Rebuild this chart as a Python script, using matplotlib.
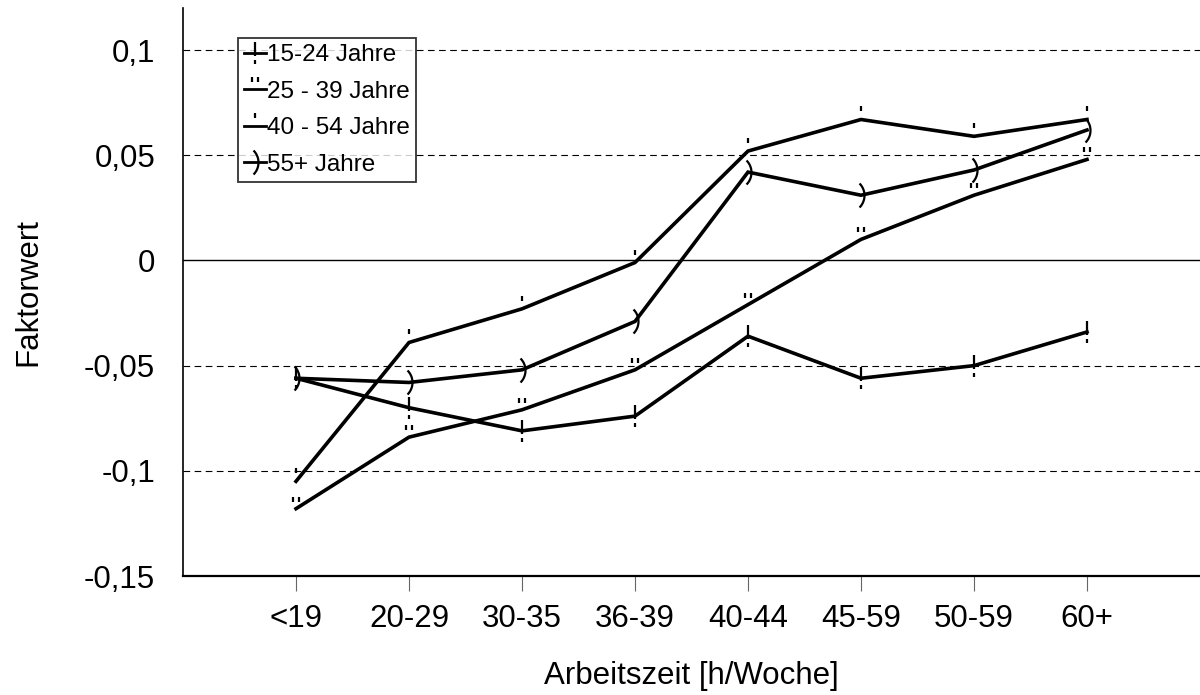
import numpy as np
import matplotlib
matplotlib.use('Agg')
import matplotlib.pyplot as plt
from matplotlib.path import Path

# Kategorien und Faktorwerte je Altersgruppe
kategorien = ['<19', '20-29', '30-35', '36-39', '40-44', '45-59', '50-59', '60+']
gruppen = ['15-24 Jahre', '25 - 39 Jahre', '40 - 54 Jahre', '55+ Jahre']
werte_15_24 = [-0.056, -0.070, -0.081, -0.074, -0.036, -0.056, -0.050, -0.034]
werte_25_39 = [-0.118, -0.084, -0.071, -0.052, -0.021, 0.010, 0.031, 0.048]
werte_40_54 = [-0.105, -0.039, -0.023, -0.001, 0.052, 0.067, 0.059, 0.067]
werte_55 = [-0.056, -0.058, -0.052, -0.029, 0.042, 0.031, 0.043, 0.062]

plt.rcParams['font.family'] = ['Liberation Sans', 'DejaVu Sans']

# Symbole wie in der Vorlage (Zeichen aus der Symbolschrift)
M, L = Path.MOVETO, Path.LINETO
sym_strich = Path([(0, 11), (0, -3), (0, -7), (0, -11)], [M, L, M, L])
sym_doppel = Path([(-2.5, 7), (-2.5, 12), (2.5, 7), (2.5, 12), (0, -12)], [M, L, M, L, M])
sym_einfach = Path([(0, 8), (0, 13), (0, -13)], [M, L, M])
t = np.linspace(-np.arcsin(12 / 17), np.arcsin(12 / 17), 15)
bogen = np.column_stack([-14 + 17 * np.cos(t), 17 * np.sin(t)])
sym_klammer = Path(bogen, [M] + [L] * (len(bogen) - 1))

reihen = [
    (werte_15_24, sym_strich, 15.8),
    (werte_25_39, sym_doppel, 17.3),
    (werte_40_54, sym_einfach, 18.7),
    (werte_55, sym_klammer, 17.3),
]

fig = plt.figure(figsize=(12, 6.95), dpi=100)
ax = fig.add_axes([183 / 1200, 1 - 576 / 695, 1 - 183 / 1200, (576 - 8) / 695])

x = np.arange(len(kategorien))
handles = []
for (werte, sym, ms), name in zip(reihen, gruppen):
    h, = ax.plot(x, werte, color='black', linewidth=2.6, marker=sym, markersize=ms,
                 markerfacecolor='none', markeredgecolor='black', markeredgewidth=1.6,
                 label=name, solid_joinstyle='miter')
    handles.append(h)

# Hilfslinien
for y in [-0.1, -0.05, 0.05, 0.1]:
    ax.axhline(y, color='black', linewidth=0.8, linestyle=(0, (6, 4)), zorder=0)
ax.axhline(0, color='black', linewidth=1.0, zorder=0)

ax.set_xlim(-1, 8)
ax.set_ylim(-0.15, 0.12)
ax.set_xticks(x)
ax.set_xticklabels(kategorien, fontsize=22.5)
ax.set_yticks([-0.15, -0.1, -0.05, 0, 0.05, 0.1])
ax.set_yticklabels(['-0,15', '-0,1', '-0,05', '0', '0,05', '0,1'], fontsize=22.5)
ax.tick_params(axis='x', length=11, width=0.8, color='#666666', pad=9)
ax.tick_params(axis='y', length=0, pad=20)
ax.spines['top'].set_visible(False)
ax.spines['right'].set_visible(False)
ax.spines['left'].set_linewidth(1.2)
ax.spines['bottom'].set_linewidth(1.6)

ax.set_xlabel('Arbeitszeit [h/Woche]', fontsize=22.5)
ax.set_ylabel('Faktorwert', fontsize=22.5)
ax.xaxis.set_label_coords(0.5, -0.15)
ax.yaxis.set_label_coords(-0.137, 0.5)

leg = ax.legend(handles=handles, loc='upper left', bbox_to_anchor=(238 / 1200, 1 - 38 / 695),
                bbox_transform=fig.transFigure, fontsize=17.5, frameon=True, fancybox=False,
                edgecolor='black', numpoints=1, handlelength=0.9, handletextpad=0.05,
                labelspacing=0.6, borderpad=0.25, borderaxespad=0)
leg.get_frame().set_linewidth(1.3)
for lh in leg.get_lines():
    lh.set_linewidth(2.0)

fig.savefig('out.png', dpi=100)
